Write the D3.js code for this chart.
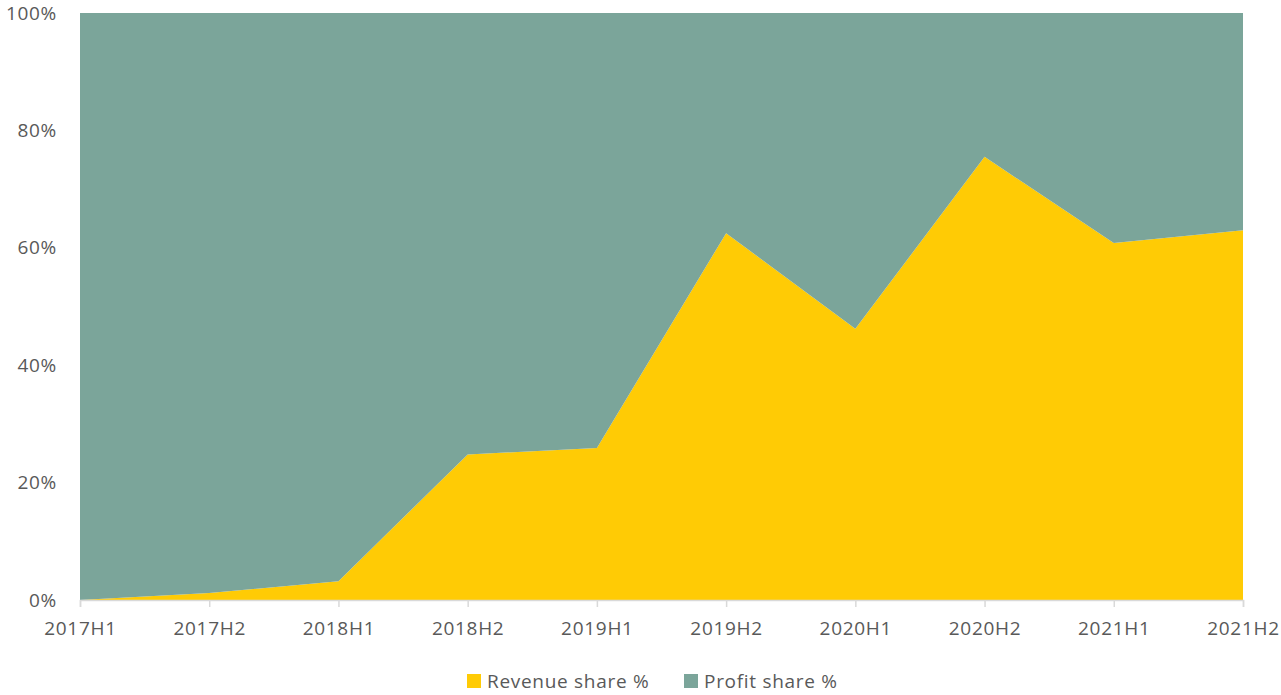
<!DOCTYPE html>
<html>
<head>
<meta charset="utf-8">
<script src="https://cdn.jsdelivr.net/npm/d3@7"></script>
<style>
  body { margin: 0; background: #fff; }
  svg text { font-family: "Open Sans", "Liberation Sans", sans-serif; fill: #595959; }
</style>
</head>
<body>
<div id="chart"></div>
<script>
// half-year periods
const periods = ['2017H1', '2017H2', '2018H1', '2018H2', '2019H1', '2019H2', '2020H1', '2020H2', '2021H1', '2021H2'];
// revenue share in %, profit share is the remainder to 100
const revenueShare = [0, 1.2, 3.2, 24.8, 25.9, 62.5, 46.2, 75.5, 60.8, 63.0];
const profitShare = [100, 98.8, 96.8, 75.2, 74.1, 37.5, 53.8, 24.5, 39.2, 37.0];
const yTicks = [0, 20, 40, 60, 80, 100];
const seriesNames = ['Revenue share %', 'Profit share %'];
const colors = ['#FFCB05', '#7BA59A'];

const width = 1281, height = 695;
const margin = { top: 13, right: 38, bottom: 95, left: 80 };
const fontSize = 19;
const spacing = '0.7px';

const svg = d3.select('#chart').append('svg')
    .attr('width', width)
    .attr('height', height);

const x = d3.scalePoint()
    .domain(periods)
    .range([margin.left, width - margin.right]);

const y = d3.scaleLinear()
    .domain([0, 100])
    .range([height - margin.bottom, margin.top]);

// stack the two series
const rows = periods.map((p, i) => ({ period: p, rev: revenueShare[i], profit: profitShare[i] }));
const stacked = d3.stack().keys(['rev', 'profit'])(rows);

const area = d3.area()
    .x(d => x(d.data.period))
    .y0(d => y(d[0]))
    .y1(d => y(d[1]));

svg.append('g')
    .selectAll('path')
    .data(stacked)
    .join('path')
    .attr('d', area)
    .attr('fill', (d, i) => colors[i]);

// x axis
const xAxis = svg.append('g')
    .attr('transform', `translate(0, ${y(0)})`)
    .call(d3.axisBottom(x).tickSize(7).tickPadding(15));
xAxis.select('.domain').attr('stroke', '#d9d9d9').attr('stroke-width', 1.5);
xAxis.selectAll('.tick line').attr('stroke', '#d9d9d9').attr('stroke-width', 1.5);
xAxis.selectAll('.tick text')
    .attr('font-size', fontSize)
    .style('letter-spacing', spacing)
    .style('font-family', '"Open Sans", sans-serif')
    .attr('fill', '#595959');

// y axis
const yAxis = svg.append('g')
    .attr('transform', `translate(${margin.left}, 0)`)
    .call(d3.axisLeft(y).tickValues(yTicks).tickFormat(d => d + '%').tickSize(0).tickPadding(23));
yAxis.select('.domain').remove();
yAxis.selectAll('.tick text')
    .attr('font-size', fontSize)
    .style('letter-spacing', spacing)
    .style('font-family', '"Open Sans", sans-serif')
    .attr('fill', '#595959');

// legend
const legend = svg.append('g').attr('transform', 'translate(467, 674)');
const legendX = [0, 217];
seriesNames.forEach((name, i) => {
    const g = legend.append('g').attr('transform', `translate(${legendX[i]}, 0)`);
    g.append('rect')
        .attr('width', 14)
        .attr('height', 14)
        .attr('fill', colors[i]);
    g.append('text')
        .attr('x', 20)
        .attr('y', 14)
        .attr('font-size', fontSize)
        .style('letter-spacing', spacing)
        .text(name);
});
</script>
</body>
</html>
